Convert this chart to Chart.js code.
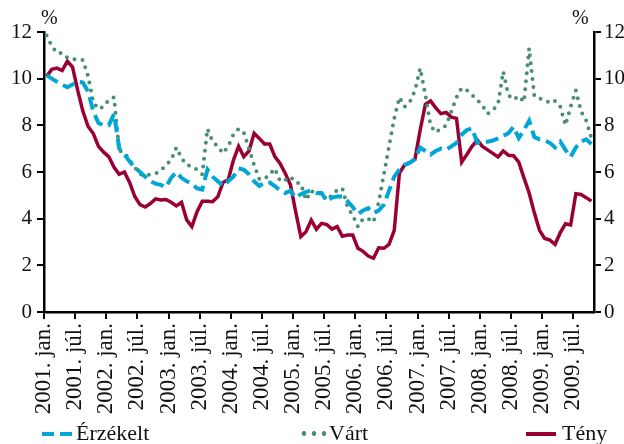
<!DOCTYPE html>
<html>
<head>
<meta charset="utf-8">
<script src="https://cdn.jsdelivr.net/npm/chart.js@4"></script>
<style>
  body { margin: 0; background: #fff; }
  #wrap { position: relative; width: 624px; height: 444px; font-family: "Liberation Serif", serif; color: #111; }
  .txt { position: absolute; font-size: 22px; line-height: 22px; }
  .smp { position: absolute; height: 4px; }
</style>
</head>
<body>
<div id="wrap">
  <canvas id="c" width="624" height="444"></canvas>
  <span class="txt" style="left:41px; top:6px; font-size:20px;">%</span>
  <span class="txt" style="left:572px; top:6px; font-size:20px;">%</span>

  <div class="smp" style="left:42px; top:432px; width:30px; background:repeating-linear-gradient(to right,#00a6d6 0 12px,transparent 12px 18px);"></div>
  <span class="txt" style="left:76px; top:422px;">Érzékelt</span>
  <div class="smp" style="left:299px; top:431px; width:28px; height:5px; background:radial-gradient(circle,#4b8f72 2.2px,transparent 2.6px); background-size:10px 5px;"></div>
  <span class="txt" style="left:329px; top:422px;">Várt</span>
  <div class="smp" style="left:526px; top:432px; width:30px; background:#9a0036;"></div>
  <span class="txt" style="left:562px; top:422px;">Tény</span>
</div>
<script>
// havi adatok 2001. jan. - 2009. okt.
const tickLabels = ['2001. jan.', '2001. júl.', '2002. jan.', '2002. júl.', '2003. jan.', '2003. júl.',
  '2004. jan.', '2004. júl.', '2005. jan.', '2005. júl.', '2006. jan.', '2006. júl.',
  '2007. jan.', '2007. júl.', '2008. jan.', '2008. júl.', '2009. jan.', '2009. júl.'];

const erzekelt = [10.15, 10.0, 9.87, 9.75, 9.63, 9.75, 9.87, 9.83, 9.45, 8.6,
  8.1, 8.0, 8.0, 8.5, 7.0, 6.75, 6.45, 6.2, 6.0, 5.8,
  5.6, 5.5, 5.45, 5.35, 5.75, 6.0, 5.75, 5.6, 5.5, 5.3,
  5.25, 6.1, 5.8, 5.6, 5.4, 5.6, 5.8, 6.15, 6.1, 5.9,
  5.6, 5.4, 5.55, 5.55, 5.4, 5.2, 5.1, 5.2, 4.9, 5.05,
  5.15, 5.2, 5.1, 5.1, 4.75, 4.9, 4.95, 4.95, 4.75, 4.5,
  4.2, 4.35, 4.45, 4.25, 4.35, 4.6, 5.2, 5.8, 6.1, 6.3,
  6.4, 6.55, 7.05, 6.9, 6.75, 6.9, 7.0, 6.95, 7.1, 7.25,
  7.6, 7.8, 7.87, 7.25, 7.3, 7.3, 7.35, 7.44, 7.55, 7.66,
  7.94, 7.45, 7.8, 8.2, 7.5, 7.4, 7.35, 7.25, 7.05, 7.3,
  6.95, 6.65, 7.05, 7.3, 7.4, 7.2];

const vart = [11.85, 11.4, 11.1, 11.1, 10.9, 10.83, 10.83, 10.8, 10.1, 9.0,
  8.7, 8.8, 9.1, 9.2, 6.9, 6.85, 6.5, 6.2, 5.9, 5.85,
  5.9, 5.94, 6.05, 6.3, 6.5, 7.05, 6.6, 6.3, 6.25, 6.1,
  5.9, 7.85, 7.3, 7.1, 6.8, 7.1, 7.6, 7.85, 7.7, 7.0,
  6.3, 5.7, 5.7, 5.9, 6.15, 5.6, 5.65, 5.8, 5.55, 5.5,
  4.8, 5.2, 5.05, 5.1, 4.8, 5.0, 5.23, 5.3, 4.5, 4.15,
  3.66, 4.0, 4.0, 3.85, 4.7, 5.9, 7.1, 8.3, 9.2, 8.8,
  9.0, 9.5, 10.45, 9.3, 8.0, 7.7, 7.85, 8.0, 8.6, 9.2,
  9.6, 9.5, 9.3, 9.1, 8.85, 8.5, 8.65, 8.9, 10.3, 9.3,
  9.1, 9.25, 9.0, 11.3, 9.25, 9.15, 9.1, 8.95, 9.05, 8.8,
  8.0, 8.8, 9.5, 8.6, 8.2, 7.45];

const teny = [10.1, 10.4, 10.45, 10.35, 10.75, 10.5, 9.5, 8.6, 7.95, 7.65,
  7.1, 6.85, 6.65, 6.2, 5.9, 6.0, 5.55, 4.95, 4.6, 4.5,
  4.65, 4.85, 4.8, 4.82, 4.7, 4.55, 4.7, 3.95, 3.66, 4.3,
  4.75, 4.75, 4.73, 4.94, 5.55, 5.66, 6.5, 7.1, 6.66, 6.9,
  7.66, 7.44, 7.2, 7.2, 6.66, 6.37, 5.94, 5.45, 4.3, 3.23,
  3.44, 3.94, 3.55, 3.8, 3.75, 3.55, 3.66, 3.25, 3.3, 3.3,
  2.73, 2.6, 2.4, 2.3, 2.75, 2.73, 2.9, 3.5, 5.95, 6.3,
  6.4, 6.55, 7.8, 8.9, 9.05, 8.75, 8.5, 8.55, 8.35, 8.3,
  6.42, 6.75, 7.1, 7.37, 7.1, 6.95, 6.8, 6.65, 6.9, 6.72,
  6.7, 6.42, 5.75, 5.1, 4.25, 3.5, 3.15, 3.08, 2.9, 3.4,
  3.78, 3.73, 5.07, 5.04, 4.9, 4.75];

const months = teny.length;
const pts = arr => arr.map((v, i) => ({ x: i + 0.5, y: v }));

const yFont = { family: '"Liberation Serif", serif', size: 21 };
const xFont = { family: '"Liberation Serif", serif', size: 23 };

new Chart(document.getElementById('c').getContext('2d'), {
  type: 'line',
  data: {
    datasets: [{
      label: 'Érzékelt',
      data: pts(erzekelt),
      borderColor: '#00a6d6',
      borderWidth: 4,
      borderDash: [13, 6],
      pointRadius: 0,
      tension: 0
    }, {
      label: 'Várt',
      data: pts(vart),
      borderColor: '#4b8f72',
      borderWidth: 4,
      borderDash: [0, 8],
      borderCapStyle: 'round',
      pointRadius: 0,
      tension: 0
    }, {
      label: 'Tény',
      data: pts(teny),
      borderColor: '#9a0036',
      borderWidth: 3.5,
      pointRadius: 0,
      tension: 0
    }]
  },
  options: {
    responsive: false,
    animation: false,
    devicePixelRatio: 1,
    layout: { padding: { top: 32, left: 0, right: 0, bottom: 0 } },
    plugins: {
      legend: { display: false },
      tooltip: { enabled: false }
    },
    scales: {
      x: {
        type: 'linear',
        min: 0,
        max: months,
        afterBuildTicks: scale => {
          scale.ticks = tickLabels.map((l, k) => ({ value: k * 6 }));
        },
        afterFit: scale => { scale.height = 132; },
        ticks: {
          font: xFont,
          color: '#111',
          maxRotation: 90,
          minRotation: 90,
          padding: 4,
          callback: v => tickLabels[v / 6]
        },
        grid: { drawOnChartArea: false, drawTicks: true, tickLength: 7, color: '#000', lineWidth: 2 },
        border: { display: true, color: '#000', width: 2.5 }
      },
      y: {
        position: 'left',
        min: 0,
        max: 12,
        afterFit: scale => { scale.width = 44; },
        ticks: { stepSize: 2, font: yFont, color: '#111', padding: 5 },
        grid: { drawOnChartArea: false, drawTicks: true, tickLength: 7, color: '#000', lineWidth: 2 },
        border: { display: true, color: '#000', width: 2.5 }
      },
      y2: {
        position: 'right',
        min: 0,
        max: 12,
        afterFit: scale => { scale.width = 30; },
        ticks: { stepSize: 2, font: yFont, color: '#111', padding: 3 },
        grid: { drawOnChartArea: false, drawTicks: true, tickLength: 7, color: '#000', lineWidth: 2 },
        border: { display: true, color: '#000', width: 2.5 }
      }
    }
  }
});
</script>
</body>
</html>
